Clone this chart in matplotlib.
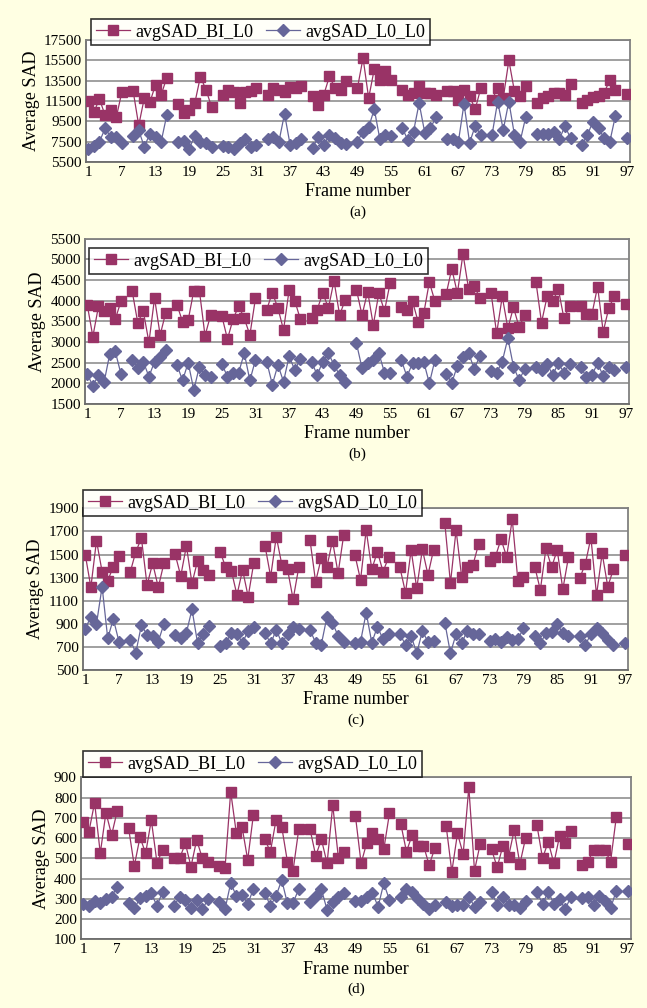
import matplotlib
matplotlib.use("Agg")
import matplotlib.pyplot as plt
import numpy as np

plt.rcParams['font.family'] = ['Liberation Serif', 'DejaVu Serif']

nan = np.nan
frames = np.arange(1, 98)
xtick_labels = list(range(1, 98, 6))

# (a)
bi_a = [11500, 10400, 11700, 10100, 10600, 9900, 12400, nan, 12500, 9100,
        11800, 11400, 13100, 12100, 13800, nan, 11200, 10300, 10600, 11300,
        13900, 12600, 10900, nan, 12100, 12600, 12400, 11300, 12400, 12500,
        12770, nan, 12100, 12770, 12600, 12400, 12900, 12800, 12930, nan,
        11950, 11120, 12110, 13920, 12770, 12600, 13430, nan, 12770, 15730,
        11780, 14640, 13590, 14410, 13590, nan, 12600, 12110, 12300, 12930,
        12300, 12280, 12110, nan, 12440, 12440, 11620, 12600, 11950, 10700,
        12770, nan, 11620, 12770, 11800, 15500, 12440, 11950, 12930, nan,
        11290, 11780, 12010, 12280, 12280, 12110, 13130, nan, 11290, 11620,
        11880, 12010, 12300, 13590, 12540, nan, 12210]
l0_a = [6800, 7100, 7500, 8800, 8000, 8000, 7400, nan, 8100, 8600,
        7000, 8300, 8000, 7500, 10100, nan, 7500, 7600, 6800, 8100,
        7500, 7400, 7000, nan, 7100, 7010, 6750, 7340, 7740, 7010,
        7180, nan, 7740, 8000, 7510, 10240, 7180, 7340, 7740, nan,
        6850, 8000, 7180, 8160, 7830, 7340, 7280, nan, 7510, 8490,
        8920, 10700, 7740, 8160, 8060, nan, 8820, 7670, 8490, 11290,
        8400, 8820, 9910, nan, 7730, 7730, 7500, 11220, 7400, 9050,
        8160, nan, 8160, 11450, 8660, 11450, 8160, 7500, 9910, nan,
        8230, 8230, 8230, 8490, 7730, 9050, 7830, nan, 7170, 8160,
        9480, 8820, 7830, 7500, 10040, nan, 7830]

# (b)
bi_b = [3900, 3130, 3860, 3740, 3820, 3550, 3980, nan, 4240, 3470,
        3740, 2990, 4060, 3170, 3710, nan, 3900, 3490, 3530, 4240,
        4240, 3150, 3650, nan, 3630, 3070, 3550, 3870, 3570, 3170,
        4060, nan, 3780, 4190, 3820, 3290, 4260, 4000, 3550, nan,
        3570, 3780, 4190, 3820, 4480, 3650, 4020, nan, 4260, 3650,
        4220, 3410, 4180, 3750, 4420, nan, 3840, 3780, 3980, 3490,
        3690, 4450, 3980, nan, 4160, 4770, 4180, 5130, 4280, 4360,
        4060, nan, 4190, 3210, 4100, 3330, 3840, 3360, 3650, nan,
        4460, 3470, 4100, 3980, 4280, 3570, 3870, nan, 3860, 3680,
        3680, 4340, 3250, 3820, 4110, nan, 3920]
l0_b = [2220, 1945, 2190, 2025, 2700, 2770, 2230, nan, 2570, 2380,
        2525, 2160, 2525, 2630, 2810, nan, 2445, 2070, 2500, 1840,
        2405, 2200, 2160, nan, 2470, 2160, 2240, 2260, 2730, 2070,
        2570, nan, 2525, 1970, 2445, 2040, 2660, 2320, 2580, nan,
        2525, 2200, 2525, 2730, 2445, 2200, 2020, nan, 2970, 2365,
        2485, 2566, 2727, 2260, 2260, nan, 2566, 2163, 2485, 2485,
        2520, 2000, 2566, nan, 2227, 2018, 2421, 2647, 2743, 2340,
        2663, nan, 2308, 2260, 2526, 3090, 2405, 2082, 2340, nan,
        2405, 2324, 2469, 2203, 2485, 2260, 2469, nan, 2405, 2147,
        2203, 2485, 2179, 2389, 2324, nan, 2405]

# (c)
bi_c = [1500, 1216, 1620, 1352, 1274, 1395, 1487, nan, 1346, 1525,
        1640, 1236, 1424, 1216, 1424, nan, 1502, 1314, 1574, 1251,
        1447, 1366, 1323, nan, 1525, 1389, 1360, 1150, 1366, 1135,
        1430, nan, 1574, 1308, 1655, 1409, 1372, 1112, 1389, nan,
        1626, 1265, 1467, 1389, 1620, 1337, 1669, nan, 1496, 1279,
        1712, 1372, 1525, 1352, 1476, nan, 1389, 1170, 1539, 1207,
        1545, 1323, 1542, nan, 1770, 1251, 1712, 1303, 1389, 1409,
        1588, nan, 1447, 1481, 1632, 1481, 1805, 1274, 1303, nan,
        1395, 1193, 1554, 1389, 1539, 1199, 1476, nan, 1294, 1418,
        1646, 1150, 1510, 1222, 1372, nan, 1496]
l0_c = [855, 962, 899, 1222, 774, 942, 746, nan, 760, 650,
        890, 803, 795, 746, 899, nan, 803, 774, 823, 1025,
        731, 812, 881, nan, 712, 730, 823, 812, 737, 841,
        875, nan, 818, 731, 847, 731, 812, 875, 852, nan,
        847, 737, 717, 956, 910, 795, 746, nan, 737, 746,
        997, 737, 875, 766, 812, nan, 812, 717, 795, 645,
        836, 745, 750, nan, 910, 645, 812, 731, 841, 812,
        812, nan, 754, 766, 746, 789, 760, 766, 861, nan,
        795, 731, 818, 832, 899, 818, 795, nan, 795, 717,
        812, 861, 818, 760, 717, nan, 731]

# (d)
bi_d = [681, 632, 775, 525, 726, 615, 735, nan, 648, 462,
        604, 525, 689, 479, 541, nan, 500, 500, 574, 459,
        591, 500, 484, nan, 462, 451, 829, 623, 656, 492,
        714, nan, 594, 533, 689, 656, 484, 439, 643, nan,
        643, 512, 594, 475, 763, 500, 533, nan, 709, 475,
        577, 627, 594, 544, 722, nan, 670, 533, 615, 561,
        563, 467, 549, nan, 660, 434, 623, 521, 851, 439,
        571, nan, 544, 456, 561, 508, 640, 472, 599, nan,
        665, 500, 582, 475, 610, 577, 637, nan, 467, 484,
        541, 541, 541, 484, 702, nan, 571]
l0_d = [275, 265, 291, 281, 298, 311, 360, nan, 281, 253,
        302, 314, 327, 265, 335, nan, 265, 311, 294, 253,
        294, 248, 298, nan, 284, 248, 378, 314, 319, 275,
        347, nan, 330, 265, 314, 393, 278, 281, 347, nan,
        286, 314, 347, 245, 286, 311, 330, nan, 291, 291,
        311, 330, 261, 377, 294, nan, 311, 347, 335, 298,
        275, 250, 270, nan, 286, 265, 270, 270, 311, 261,
        286, nan, 335, 270, 311, 270, 270, 253, 291, nan,
        335, 275, 335, 275, 298, 248, 311, nan, 303, 311,
        270, 314, 291, 253, 340, nan, 340]

W, H = 647, 1008
bg = '#FFFFE3'
red = '#993366'
blue = '#666699'

fig = plt.figure(figsize=(W / 100, H / 100), dpi=100, facecolor=bg)


def panel(box, bi, l0, yticks, legbox, tag):
    # box: left, top, right, bottom in pixels
    l, t, r, b = box
    ax = fig.add_axes([l / W, 1 - b / H, (r - l) / W, (b - t) / H])
    ax.set_facecolor('white')
    ax.plot(frames, np.array(bi, dtype=float), color=red, lw=0.9, marker='s',
            ms=7.2, mec=red, label='avgSAD_BI_L0', zorder=3)
    ax.plot(frames, np.array(l0, dtype=float), color=blue, lw=0.9, marker='D',
            ms=6.4, mec=blue, label='avgSAD_L0_L0', zorder=3)
    ax.set_ylim(yticks[0], yticks[-1])
    ax.set_yticks(yticks)
    ax.set_xlim(0.6, 97.6)
    ax.set_xticks(xtick_labels)
    ax.tick_params(length=0, labelsize=11, pad=3, colors='black')
    ax.yaxis.grid(True, color='#999999', lw=1.3)
    ax.set_axisbelow(True)
    for s in ax.spines.values():
        s.set_color('#808080')
        s.set_linewidth(1.3)
    ax.spines['left'].set_color('#6b6b6b')
    ax.spines['bottom'].set_color('#6b6b6b')
    ax.set_ylabel('Average SAD', fontsize=13, labelpad=3)
    ax.set_xlabel('Frame number', fontsize=13, labelpad=3)
    lx, ly = legbox
    leg = ax.legend(loc='upper left', bbox_to_anchor=(lx / W, 1 - ly / H),
                    bbox_transform=fig.transFigure, ncol=2, fontsize=13,
                    frameon=True, fancybox=False, borderaxespad=0,
                    borderpad=0.25, handlelength=1.9, handletextpad=0.3,
                    columnspacing=0.7, markerscale=1.0)
    leg.get_frame().set_edgecolor('black')
    leg.get_frame().set_linewidth(1.2)
    leg.set_zorder(5)
    fig.text((l + r) / 2 / W, 1 - (b + 50) / H, tag, ha='center', va='center',
             fontsize=11)
    return ax


panel((86, 40, 630, 162), bi_a, l0_a, list(range(5500, 17501, 2000)), (91, 19), '(a)')
panel((85, 238.6, 629, 404), bi_b, l0_b, list(range(1500, 5501, 500)), (89, 248), '(b)')
panel((83, 508.3, 628, 670), bi_c, l0_c, list(range(500, 1901, 200)), (83, 490), '(c)')
panel((81, 777.3, 631, 939.3), bi_d, l0_d, list(range(100, 901, 100)), (83, 751), '(d)')

fig.savefig('out.png', dpi=100, facecolor=bg)
